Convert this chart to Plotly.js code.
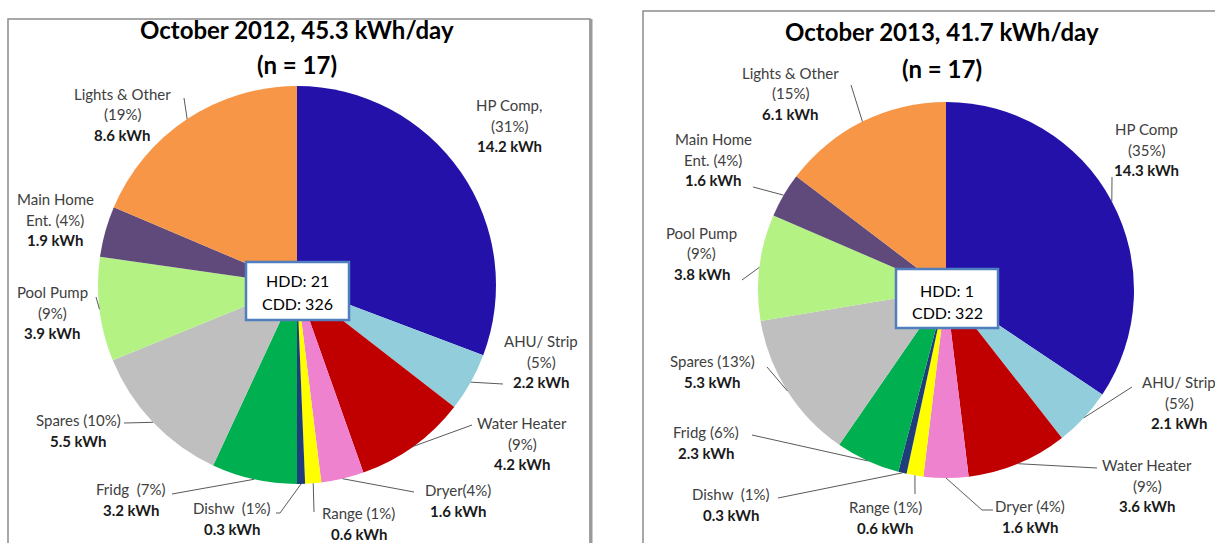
<!DOCTYPE html>
<html>
<head>
<meta charset="utf-8">
<script src="https://cdn.plot.ly/plotly-3.0.1.min.js"></script>
<style>
  html, body { margin: 0; padding: 0; background: #ffffff; }
  #chart { width: 1215px; height: 543px; }
</style>
</head>
<body>
<div id="chart"></div>
<script>
// ---------------- data ----------------
const categories = ["HP Comp", "AHU/ Strip", "Water Heater", "Dryer", "Range", "Dishw", "Fridg", "Spares", "Pool Pump", "Main Home Ent.", "Lights & Other"];
const kwh2012 = [14.2, 2.2, 4.2, 1.6, 0.6, 0.3, 3.2, 5.5, 3.9, 1.9, 8.6];
const kwh2013 = [14.3, 2.1, 3.6, 1.6, 0.6, 0.3, 2.3, 5.3, 3.8, 1.6, 6.1];
const pct2012 = [31, 5, 9, 4, 1, 1, 7, 10, 9, 4, 19];
const pct2013 = [35, 5, 9, 4, 1, 1, 6, 13, 9, 4, 15];
const labelLines2012 = [["HP Comp,", "(31%)"], ["AHU/ Strip", "(5%)"], ["Water Heater", "(9%)"], ["Dryer(4%)"], ["Range (1%)"], ["Dishw  (1%)"], ["Fridg  (7%)"], ["Spares (10%)"], ["Pool Pump", "(9%)"], ["Main Home", "Ent. (4%)"], ["Lights & Other", "(19%)"]];
const labelLines2013 = [["HP Comp", "(35%)"], ["AHU/ Strip", "(5%)"], ["Water Heater", "(9%)"], ["Dryer (4%)"], ["Range (1%)"], ["Dishw  (1%)"], ["Fridg (6%)"], ["Spares (13%)"], ["Pool Pump", "(9%)"], ["Main Home", "Ent. (4%)"], ["Lights & Other", "(15%)"]];
const titles = ["October 2012, 45.3 kWh/day", "October 2013, 41.7 kWh/day"];
const subtitles = ["(n = 17)", "(n = 17)"];
const degreeDays = [["HDD: 21", "CDD: 326"], ["HDD: 1", "CDD: 322"]];
const colors = ["#2311A9", "#92CDDC", "#C00000", "#EE82CF", "#FFFF00", "#1F3D7A", "#00B050", "#BFBFBF", "#B3F283", "#604A7B", "#F79646"];

// ---------------- layout geometry (pixels) ----------------
const W = 1215, H = 543;
const FONT = "Lato, 'Open Sans', 'DejaVu Sans', sans-serif";
const pies = [
  { cx: 297, cy: 285, r: 199, titleX: 297, titleY: [30, 64], box: [8, 590, 19], ddBox: [246, 349, 262, 320], ddY: [280, 303] },
  { cx: 946, cy: 290, r: 188, titleX: 942, titleY: [32, 68], box: [643, 1218, 11], ddBox: [896, 998, 269, 328], ddY: [290, 312] }
];
// label anchor positions (center x, y of first line) and leader-line tails
const labelPos = [
  [[509,105],[541,341],[522,423],[458,490],[359,513],[232,508],[131,489],[78,420],[52,292],[55,199],[122,94]],
  [[1146,129],[1179,382],[1147,465],[1030,506],[885,507],[731,494],[706,432],[712,361],[702,233],[713,139],[790,73]]
];
const leaderTails = [
  [null, [[503,384]], [[472,425]], [[414,492]], [[314,512]], [[276,513],[280,513]], [[172,494]], [[124,423]], [[96,297]], null, [[184,98]]],
  [[[1112,177]], [[1132,387]], [[1097,468]], [[993,510],[982,510]], [[915,494]], [[778,498]], [[752,435]], [[767,367]], [[742,280]], [[753,187]], [[851,85]]]
];
const LINE_GAP = 20.5;

const px = x => x / W;
const py = y => 1 - y / H;

const datasets = [kwh2012, kwh2013];
const allLines = [labelLines2012, labelLines2013];

const traces = [];
const annotations = [];
const shapes = [];

pies.forEach((p, k) => {
  const vals = datasets[k];
  traces.push({
    type: "pie",
    labels: categories,
    values: vals,
    sort: false,
    direction: "clockwise",
    rotation: 0,
    textinfo: "none",
    hoverinfo: "label+value+percent",
    showlegend: false,
    marker: { colors: colors, line: { width: 0 } },
    domain: {
      x: [px(p.cx - p.r), px(p.cx + p.r)],
      y: [py(p.cy + p.r), py(p.cy - p.r)]
    }
  });

  // frame
  shapes.push({ type: "rect", xref: "paper", yref: "paper", layer: "below",
    x0: px(p.box[0]), x1: px(p.box[1]), y0: -0.05, y1: py(p.box[2]),
    line: { color: "#8c8c8c", width: 1.5 }, fillcolor: "rgba(0,0,0,0)" });

  // titles
  annotations.push({ xref: "paper", yref: "paper", x: px(p.titleX), y: py(p.titleY[0]), xanchor: "center", yanchor: "middle",
    showarrow: false, text: "<b>" + titles[k] + "</b>", font: { family: FONT, size: 24, color: "#000" } });
  annotations.push({ xref: "paper", yref: "paper", x: px(p.titleX), y: py(p.titleY[1]), xanchor: "center", yanchor: "middle",
    showarrow: false, text: "<b>" + subtitles[k] + "</b>", font: { family: FONT, size: 24, color: "#000" } });

  // leader lines: head computed from slice mid-angle
  const total = vals.reduce((a, b) => a + b, 0);
  let cum = 0;
  vals.forEach((v, i) => {
    const mid = (cum + v / 2) / total;
    cum += v;
    const th = 2 * Math.PI * mid;
    const hx = p.cx + p.r * Math.sin(th);
    const hy = p.cy - p.r * Math.cos(th);
    const tail = leaderTails[k][i];
    if (tail) {
      let path = "M " + px(tail[0][0]) + "," + py(tail[0][1]);
      for (let j = 1; j < tail.length; j++) path += " L " + px(tail[j][0]) + "," + py(tail[j][1]);
      path += " L " + px(hx) + "," + py(hy);
      shapes.push({ type: "path", xref: "paper", yref: "paper", layer: "above", path: path,
        line: { color: "#5a5a5a", width: 1 } });
    }
    // label text lines
    const lines = allLines[k][i].slice();
    const pos = labelPos[k][i];
    lines.forEach((t, j) => {
      annotations.push({ xref: "paper", yref: "paper", x: px(pos[0]), y: py(pos[1] + j * LINE_GAP),
        xanchor: "center", yanchor: "middle", showarrow: false, text: t,
        font: { family: FONT, size: 15, color: "#404040" } });
    });
    annotations.push({ xref: "paper", yref: "paper", x: px(pos[0]), y: py(pos[1] + lines.length * LINE_GAP),
      xanchor: "center", yanchor: "middle", showarrow: false, text: "<b>" + v.toFixed(1) + " kWh</b>",
      font: { family: FONT, size: 15, color: "#1a1a1a" } });
  });

  // degree-day box
  shapes.push({ type: "rect", xref: "paper", yref: "paper", layer: "above",
    x0: px(p.ddBox[0]), x1: px(p.ddBox[1]), y0: py(p.ddBox[3]), y1: py(p.ddBox[2]),
    line: { color: "#4F7FBF", width: 2.5 }, fillcolor: "#ffffff" });
  degreeDays[k].forEach((t, j) => {
    annotations.push({ xref: "paper", yref: "paper", x: px((p.ddBox[0] + p.ddBox[1]) / 2), y: py(p.ddY[j]),
      xanchor: "center", yanchor: "middle", showarrow: false, text: t,
      font: { family: FONT, size: 16, color: "#000" } });
  });
});

// thicker right edge of the left frame
shapes.push({ type: "line", xref: "paper", yref: "paper", x0: px(591), x1: px(591), y0: -0.05, y1: py(19),
  line: { color: "#9a9a9a", width: 3 } });

const layout = {
  width: W, height: H,
  margin: { l: 0, r: 0, t: 0, b: 0 },
  paper_bgcolor: "#ffffff",
  plot_bgcolor: "#ffffff",
  showlegend: false,
  annotations: annotations,
  shapes: shapes
};

Plotly.newPlot("chart", traces, layout, { displayModeBar: false, staticPlot: true });
</script>
</body>
</html>
